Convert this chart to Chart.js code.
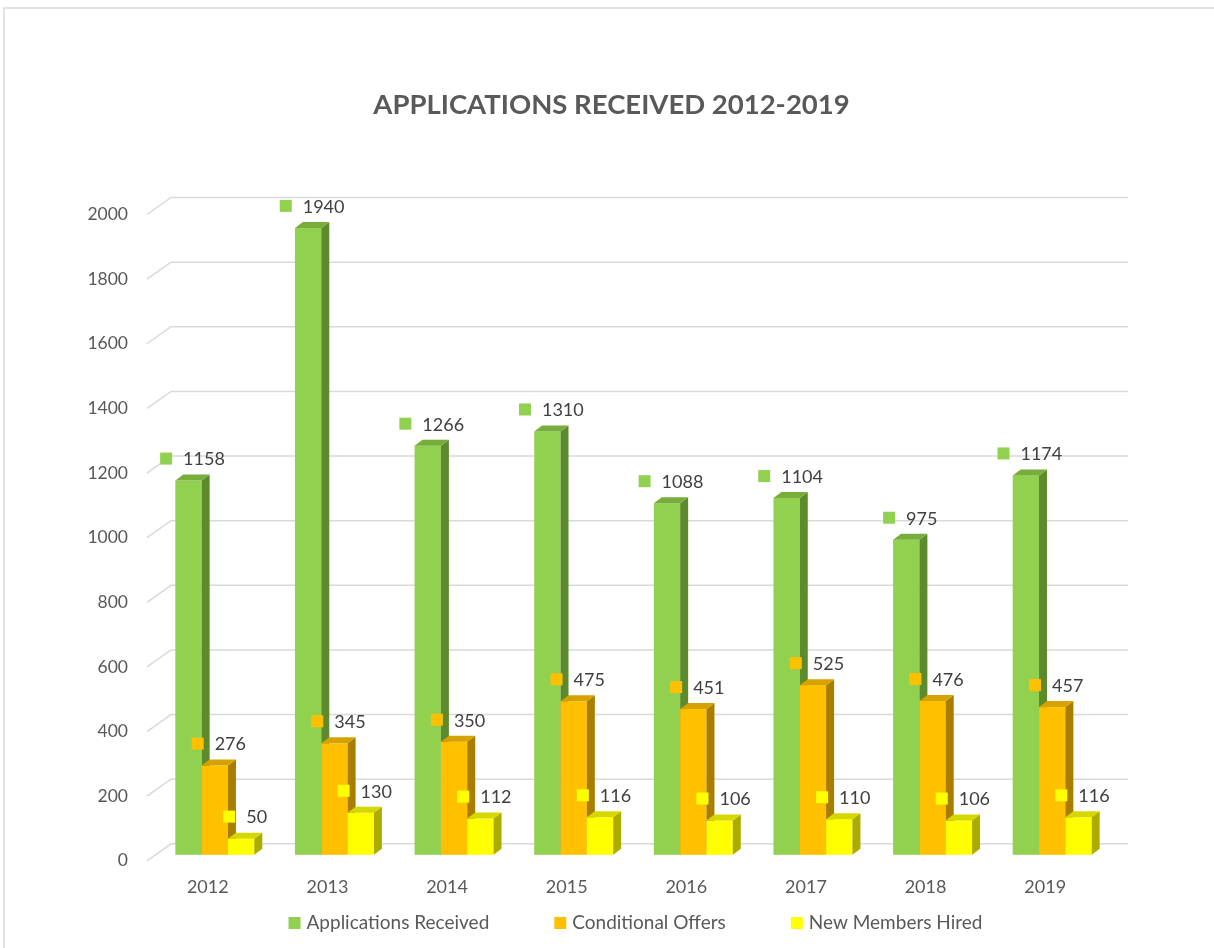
<!DOCTYPE html>
<html>
<head>
<meta charset="utf-8">
<title>Applications Received 2012-2019</title>
<script src="https://cdn.jsdelivr.net/npm/chart.js@4/dist/chart.umd.min.js"></script>
<style>
  html, body { margin: 0; padding: 0; background: #ffffff; }
</style>
</head>
<body>
<canvas id="myChart" width="1214" height="948"></canvas>
<script>
/* eslint-disable no-undef */

// Data
const years = ['2012', '2013', '2014', '2015', '2016', '2017', '2018', '2019'];
const applicationsReceived = [1158, 1940, 1266, 1310, 1088, 1104, 975, 1174];
const conditionalOffers = [276, 345, 350, 475, 451, 525, 476, 457];
const newMembersHired = [50, 130, 112, 116, 106, 110, 106, 116];
const yTicks = [0, 200, 400, 600, 800, 1000, 1200, 1400, 1600, 1800, 2000];

// Face colours for each series: front, side, top
const shades = [
  { front: '#92d050', side: '#5d8a2c', top: '#77ad3b' },
  { front: '#ffc000', side: '#a97e00', top: '#d6a200' },
  { front: '#ffff00', side: '#acac00', top: '#d7d700' }
];

const FONT = 'Lato, "Open Sans", sans-serif';
const GRID = '#d9d9d9';

// 3d look: wall depth, bar position inside the floor and bar thickness
const WALL_X = 23, WALL_Y = 17;
const SHIFT_X = 7, SHIFT_Y = -6;
const DEPTH_X = 8, DEPTH_Y = 6;

function poly(ctx, pts, fill) {
  ctx.beginPath();
  ctx.moveTo(pts[0][0], pts[0][1]);
  for (let k = 1; k < pts.length; k++) ctx.lineTo(pts[k][0], pts[k][1]);
  ctx.closePath();
  ctx.fillStyle = fill;
  ctx.fill();
}

const chart3d = {
  id: 'chart3d',
  beforeDraw(chart) {
    const { ctx, chartArea, scales } = chart;
    ctx.save();
    // outer frame
    ctx.strokeStyle = GRID;
    ctx.lineWidth = 1.5;
    ctx.beginPath();
    ctx.moveTo(4, chart.height);
    ctx.lineTo(4, 8);
    ctx.lineTo(chart.width, 8);
    ctx.stroke();

    // gridlines on the back wall, with the side wall edge on the left
    scales.y.ticks.forEach(t => {
      const y = scales.y.getPixelForValue(t.value);
      ctx.beginPath();
      ctx.moveTo(chartArea.left - 1, y);
      ctx.lineTo(chartArea.left + WALL_X, y - WALL_Y);
      ctx.lineTo(chartArea.right + WALL_X, y - WALL_Y);
      ctx.stroke();
    });
    ctx.restore();
  },
  beforeDatasetsDraw(chart) {
    const { ctx } = chart;
    ctx.save();
    years.forEach((yr, i) => {
      chart.data.datasets.forEach((ds, d) => {
        const el = chart.getDatasetMeta(d).data[i];
        const { x, y, base, width } = el.getProps(['x', 'y', 'base', 'width'], true);
        const x0 = x - width / 2 + SHIFT_X;
        const x1 = x + width / 2 + SHIFT_X;
        const top = y + SHIFT_Y;
        const bot = base + SHIFT_Y;
        const c = shades[d];
        ctx.fillStyle = c.front;
        ctx.fillRect(x0, top, x1 - x0, bot - top);
        poly(ctx, [[x1, top], [x1 + DEPTH_X, top - DEPTH_Y], [x1 + DEPTH_X, bot - DEPTH_Y], [x1, bot]], c.side);
        poly(ctx, [[x0, top], [x0 + DEPTH_X, top - DEPTH_Y], [x1 + DEPTH_X, top - DEPTH_Y], [x1, top]], c.top);
      });
    });
    ctx.restore();
    return false;
  },
  afterDraw(chart) {
    const { ctx, chartArea } = chart;
    ctx.save();
    ctx.textBaseline = 'middle';
    ctx.textAlign = 'left';

    // value labels with a legend key square
    ctx.font = '18px ' + FONT;
    chart.data.datasets.forEach((ds, d) => {
      chart.getDatasetMeta(d).data.forEach((el, i) => {
        const { x, y } = el.getProps(['x', 'y'], true);
        const txt = String(ds.data[i]);
        const w = 12 + 11 + ctx.measureText(txt).width;
        const cx = x + SHIFT_X + DEPTH_X / 2;
        const cy = y + SHIFT_Y - 22;
        const lx = cx - w / 2;
        ctx.fillStyle = shades[d].front;
        ctx.fillRect(lx, cy - 6, 12, 12);
        ctx.fillStyle = '#404040';
        ctx.fillText(txt, lx + 23, cy + 1);
      });
    });

    // legend
    ctx.font = '19px ' + FONT;
    const items = chart.data.datasets.map((ds, d) => ({
      label: ds.label,
      color: shades[d].front,
      w: 12 + 6 + ctx.measureText(ds.label).width
    }));
    const gap = 65;
    const total = items.reduce((s, it) => s + it.w, 0) + gap * (items.length - 1);
    let lx = (chartArea.left + chartArea.right) / 2 + 9 - total / 2;
    const ly = 923;
    items.forEach(it => {
      ctx.fillStyle = it.color;
      ctx.fillRect(lx, ly - 6, 12, 12);
      ctx.fillStyle = '#595959';
      ctx.fillText(it.label, lx + 18, ly);
      lx += it.w + gap;
    });
    ctx.restore();
  }
};

function renderChart() {
  const ctx = document.querySelector('#myChart').getContext('2d');
  Chart.defaults.font.family = FONT;
  new Chart(ctx, {
    type: 'bar',
    data: {
      labels: years,
      datasets: [
        { label: 'Applications Received', data: applicationsReceived, backgroundColor: shades[0].front },
        { label: 'Conditional Offers', data: conditionalOffers, backgroundColor: shades[1].front },
        { label: 'New Members Hired', data: newMembersHired, backgroundColor: shades[2].front }
      ]
    },
    options: {
      responsive: false,
      animation: false,
      categoryPercentage: 0.66,
      barPercentage: 1.0,
      layout: { padding: { left: 20, right: 11, top: 0, bottom: 33.6 } },
      plugins: {
        legend: { display: false },
        tooltip: { enabled: false },
        title: {
          display: true,
          text: 'APPLICATIONS RECEIVED 2012-2019',
          color: '#595959',
          font: { size: 27.5, weight: 'bold', lineHeight: 1.2 },
          padding: { top: 88.5, bottom: 93 }
        }
      },
      scales: {
        x: {
          grid: { display: false, drawTicks: false },
          border: { display: false },
          ticks: { color: '#595959', font: { size: 18 }, padding: 16 }
        },
        y: {
          min: 0,
          max: 2000,
          grid: { display: false, drawTicks: false },
          border: { display: false },
          afterBuildTicks: s => { s.ticks = yTicks.map(v => ({ value: v })); },
          afterFit: s => { s.width = 128; },
          ticks: { color: '#595959', font: { size: 17.5 }, padding: 20, callback: v => String(v) }
        },
        // empty space on the right, keeps the title centred on the page
        yRight: {
          position: 'right',
          grid: { display: false, drawTicks: false },
          border: { display: false },
          ticks: { display: false },
          afterFit: s => { s.width = 98; }
        }
      }
    },
    plugins: [chart3d]
  });
}

renderChart();
</script>
</body>
</html>
